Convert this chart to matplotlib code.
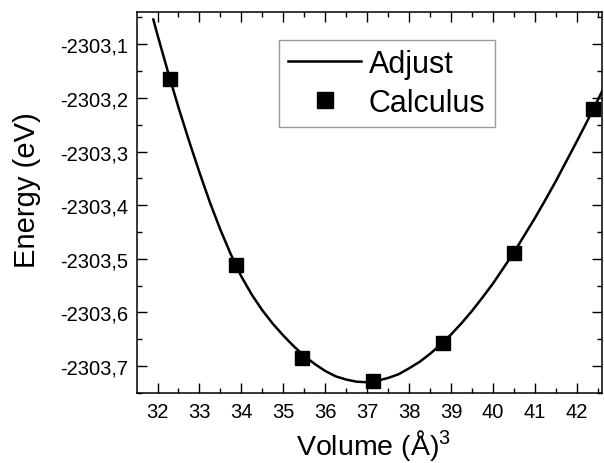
import matplotlib
matplotlib.use("Agg")
import matplotlib.pyplot as plt
from matplotlib.ticker import MultipleLocator, FuncFormatter

plt.rcParams["font.family"] = ["Liberation Sans", "DejaVu Sans"]
plt.rcParams["mathtext.fontset"] = "custom"
plt.rcParams["mathtext.rm"] = "Liberation Sans"
plt.rcParams["mathtext.it"] = "Liberation Sans"

# -------- Calculated points --------
vol_calc = [32.29, 33.87, 35.45, 37.14, 38.81, 40.50, 42.39]
energy_calc = [-2303.165, -2303.512, -2303.685, -2303.728, -2303.657, -2303.490, -2303.221]

# -------- Fitted curve --------
vol_fit = [31.9, 32.0, 32.25, 32.5, 32.75, 33.0, 33.25, 33.5, 33.75, 34.0, 34.25,
           34.5, 34.75, 35.0, 35.25, 35.5, 35.75, 36.0, 36.25, 36.5, 36.75, 37.0,
           37.25, 37.5, 37.75, 38.0, 38.25, 38.5, 38.75, 39.0, 39.25, 39.5, 39.75,
           40.0, 40.25, 40.5, 40.75, 41.0, 41.25, 41.5, 41.75, 42.0, 42.25, 42.5, 42.6]
energy_fit = [-2303.054, -2303.083, -2303.152, -2303.218, -2303.280, -2303.339,
              -2303.395, -2303.446, -2303.492, -2303.533, -2303.567, -2303.596,
              -2303.621, -2303.643, -2303.663, -2303.681, -2303.696, -2303.709,
              -2303.719, -2303.725, -2303.729, -2303.730, -2303.727, -2303.722,
              -2303.715, -2303.704, -2303.692, -2303.677, -2303.660, -2303.641,
              -2303.620, -2303.597, -2303.572, -2303.546, -2303.517, -2303.488,
              -2303.456, -2303.424, -2303.390, -2303.355, -2303.318, -2303.281,
              -2303.243, -2303.204, -2303.188]

fig = plt.figure(figsize=(6.04, 4.64), dpi=100)
ax = fig.add_axes([0.2268, 0.1509, 0.7699, 0.8211])

ax.plot(vol_fit, energy_fit, color="black", lw=1.8, label="Adjust")
ax.plot(vol_calc, energy_calc, "s", color="black", ms=10, label="Calculus")

ax.set_xlim(31.51, 42.6)
ax.set_ylim(-2303.75, -2303.04)

ax.xaxis.set_major_locator(MultipleLocator(1))
ax.xaxis.set_minor_locator(MultipleLocator(0.5))
ax.yaxis.set_major_locator(MultipleLocator(0.1))
ax.yaxis.set_minor_locator(MultipleLocator(0.05))
ax.yaxis.set_major_formatter(FuncFormatter(lambda v, p: f"{v:.1f}".replace(".", ",")))

ax.tick_params(which="both", direction="in", top=True, right=True, width=1.0)
ax.tick_params(which="major", length=7, labelsize=14.5, pad=6.5)
ax.tick_params(which="minor", length=3.5)
for s in ax.spines.values():
    s.set_linewidth(1.1)

ax.set_xlabel("Volume (Å)$^{3}$", fontsize=20.5)
ax.set_ylabel("Energy (eV)", fontsize=21)
ax.yaxis.set_label_coords(-0.206, 0.535)
ax.xaxis.set_label_coords(0.508, -0.09)

leg = ax.legend(loc="upper left", bbox_to_anchor=(0.305, 0.927), fontsize=22,
                frameon=True, fancybox=False, edgecolor="gray", handlelength=2.4,
                borderpad=0.3, labelspacing=0.3, handletextpad=0.25, markerscale=1.2,
                borderaxespad=0)
leg.get_frame().set_linewidth(1.0)

fig.savefig("out.png", dpi=100)
